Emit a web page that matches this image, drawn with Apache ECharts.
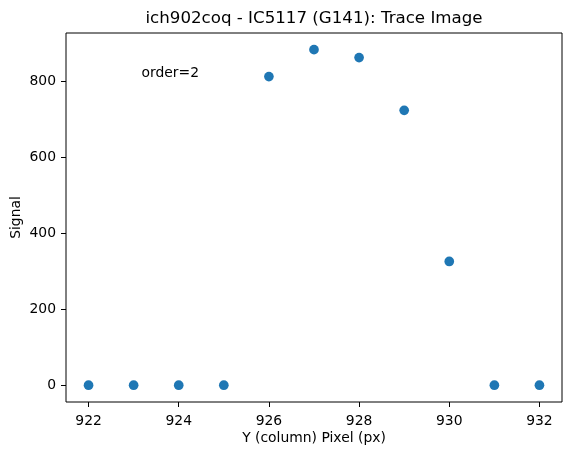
<!DOCTYPE html>
<html>
<head>
<meta charset="utf-8">
<script src="https://cdn.jsdelivr.net/npm/echarts@6/dist/echarts.min.js"></script>
<style>
html,body{margin:0;padding:0;background:#fff;}
#chart{width:571px;height:455px;}
</style>
</head>
<body>
<div id="chart"></div>
<script>
const pixels = [922, 923, 924, 925, 926, 927, 928, 929, 930, 931, 932];
const signal = [0, 0, 0, 0, 813, 884, 863, 724, 326, 0, 0];
const xTicks = [922, 924, 926, 928, 930, 932];
const yTicks = [0, 200, 400, 600, 800];
const titleText = 'ich902coq - IC5117 (G141): Trace Image';
const xName = 'Y (column) Pixel (px)';
const yName = 'Signal';
const noteText = 'order=2';

const FONT = 'DejaVu Sans';
const chart = echarts.init(document.getElementById('chart'), null, {renderer: 'canvas'});
chart.setOption({
  animation: false,
  backgroundColor: '#fff',
  grid: {left: 66, right: 9, top: 33, bottom: 53, containLabel: false, outerBoundsMode: 'none',
         show: true, borderColor: '#000', borderWidth: 1, backgroundColor: 'transparent'},
  xAxis: {
    type: 'value', min: 921.5, max: 932.5,
    name: xName, nameLocation: 'middle', nameGap: 29, nameMoveOverlap: false,
    nameTextStyle: {fontFamily: FONT, fontSize: 13.9, color: '#000'},
    axisLine: {show: false, onZero: false},
    axisTick: {show: true, length: 5, lineStyle: {color: '#000'}, customValues: xTicks},
    axisLabel: {fontFamily: FONT, fontSize: 13.9, color: '#000', margin: 12, customValues: xTicks},
    splitLine: {show: false}
  },
  yAxis: {
    type: 'value', min: -44.2, max: 927.8,
    name: yName, nameLocation: 'middle', nameGap: 43, nameRotate: 90, nameMoveOverlap: false,
    nameTextStyle: {fontFamily: FONT, fontSize: 13.9, color: '#000'},
    axisLine: {show: false, onZero: false},
    axisTick: {show: true, length: 5, lineStyle: {color: '#000'}, customValues: yTicks},
    axisLabel: {fontFamily: FONT, fontSize: 13.9, color: '#000', margin: 10, customValues: yTicks},
    splitLine: {show: false}
  },
  graphic: [
    {type: 'text', x: 314, y: 10, style: {text: titleText, font: '16.67px "DejaVu Sans"', fill: '#000', textAlign: 'center'}},
    {type: 'text', x: 141.5, y: 66.5, style: {text: noteText, font: '13.9px "DejaVu Sans"', fill: '#000'}}
  ],
  series: [{
    type: 'scatter',
    data: pixels.map((p, i) => [p, signal[i]]),
    symbolSize: 9.7,
    itemStyle: {color: '#1f77b4', opacity: 1},
    emphasis: {disabled: true}
  }]
});
</script>
</body>
</html>
